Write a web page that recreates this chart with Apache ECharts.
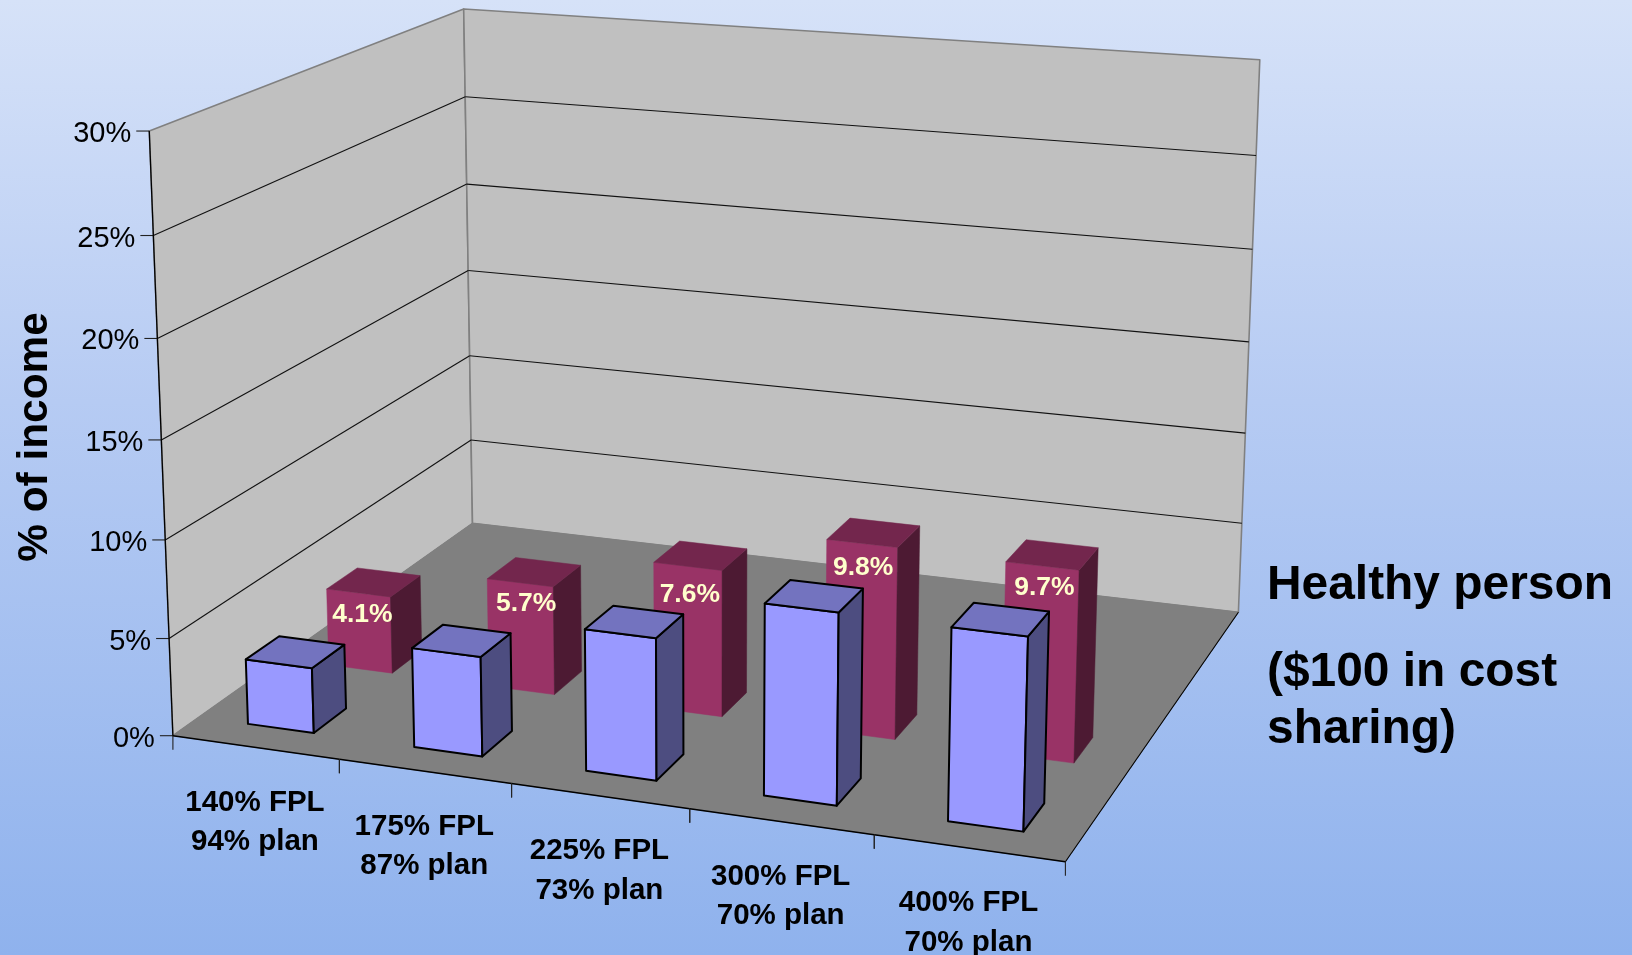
<!DOCTYPE html>
<html>
<head>
<meta charset="utf-8">
<title>Healthy person: cost sharing as percent of income</title>
<style>html,body{margin:0;padding:0;overflow:hidden;background:#b6cbf3}#main{width:1632px;height:955px}</style>
<script src="https://cdn.jsdelivr.net/npm/echarts@6/dist/echarts.min.js"></script>
</head>
<body>
<div id="main"></div>
<script>
// ---- data ----
var categories = ['140% FPL\n94% plan', '175% FPL\n87% plan', '225% FPL\n73% plan', '300% FPL\n70% plan', '400% FPL\n70% plan'];
var backRowValues = [4.1, 5.7, 7.6, 9.8, 9.7];
var backRowLabels = ['4.1%', '5.7%', '7.6%', '9.8%', '9.7%'];
var frontRowValues = [3.35, 5.05, 7.1, 9.45, 9.4];
var yTicks = [0, 5, 10, 15, 20, 25, 30];
var yTickLabels = ['0%', '5%', '10%', '15%', '20%', '25%', '30%'];
var yTitle = '% of income';
var sideTitle = ['Healthy person', '($100 in cost', 'sharing)'];

// ---- chart box in the page: where the 3D box corners land ----
var FL = [172.9, 735.7], FR = [1065.4, 861.7], BR = [1238.4, 612.3], BL = [472.5, 523.3];
var FLT = [149.3, 131], BLT = [463.7, 9], BRT = [1259.8, 59.7];
var BAR_W = 0.4, ROW_FRONT = 0.125, ROW_BACK = 0.375, BAR_D = 0.1, FONT = '"Liberation Sans", Arial, sans-serif';
var LABEL_SHIFT = [[4, 22], [6, 21], [2, 28], [1, 24], [2, 22]];

// projective camera fitted to the corners
function floorMatrix() {
  var x0 = FL[0], y0 = FL[1], x1 = FR[0], y1 = FR[1], x2 = BR[0], y2 = BR[1], x3 = BL[0], y3 = BL[1];
  var dx1 = x1 - x2, dx2 = x3 - x2, dx3 = x0 - x1 + x2 - x3;
  var dy1 = y1 - y2, dy2 = y3 - y2, dy3 = y0 - y1 + y2 - y3;
  var den = dx1 * dy2 - dx2 * dy1;
  var g = (dx3 * dy2 - dx2 * dy3) / den, h = (dx1 * dy3 - dx3 * dy1) / den;
  return { px: [x1 - x0 + g * x1, y1 - y0 + g * y1, g], pz: [x3 - x0 + h * x3, y3 - y0 + h * y3, h], p0: [x0, y0, 1] };
}
var M = floorMatrix();
(function fitVertical() {
  var pts = [[0, 0, FLT], [0, 1, BLT], [1, 1, BRT]];
  var A = [[0, 0, 0], [0, 0, 0], [0, 0, 0]], r = [0, 0, 0];
  pts.forEach(function (p) {
    var b = [0, 1, 2].map(function (k) { return p[0] * M.px[k] + p[1] * M.pz[k] + M.p0[k]; });
    [[[1, 0, -p[2][0]], p[2][0] * b[2] - b[0]], [[0, 1, -p[2][1]], p[2][1] * b[2] - b[1]]].forEach(function (e) {
      for (var i = 0; i < 3; i++) { r[i] += e[0][i] * e[1]; for (var j = 0; j < 3; j++) A[i][j] += e[0][i] * e[0][j]; }
    });
  });
  function det(m) {
    return m[0][0] * (m[1][1] * m[2][2] - m[1][2] * m[2][1]) - m[0][1] * (m[1][0] * m[2][2] - m[1][2] * m[2][0]) + m[0][2] * (m[1][0] * m[2][1] - m[1][1] * m[2][0]);
  }
  var D = det(A);
  M.py = [0, 1, 2].map(function (c) {
    var m = A.map(function (row, i) { return row.map(function (v, j) { return j === c ? r[i] : v; }); });
    return det(m) / D;
  });
})();
function project(u, v, z) {
  var o = [0, 1, 2].map(function (k) { return u * M.px[k] + v * M.py[k] + z * M.pz[k] + M.p0[k]; });
  return [o[0] / o[2], o[1] / o[2]];
}

var GRID = { left: 0, top: 0, width: 800, height: 800 };
function uOf(api, i) { return (api.coord([i, 0])[0] - GRID.left) / GRID.width; }
function vOf(api, val) { return 1 - (api.coord([0, val])[1] - GRID.top) / GRID.height; }
function poly(points, fill, stroke, lw) {
  return { type: 'polygon', shape: { points: points }, style: { fill: fill, stroke: stroke, lineWidth: lw, lineJoin: 'round' } };
}
function line(a, b, color, lw) {
  return { type: 'line', shape: { x1: a[0], y1: a[1], x2: b[0], y2: b[1] }, style: { stroke: color, lineWidth: lw, fill: null } };
}

function barRenderer(zCenter, colors, stroke, lw) {
  return function (params, api) {
    var i = api.value(0), u = uOf(api, i), hw = (api.size([1, 0])[0] / GRID.width) * BAR_W / 2;
    var v = vOf(api, api.value(1)), z0 = zCenter - BAR_D / 2, z1 = zCenter + BAR_D / 2;
    var a = u - hw, b = u + hw;
    return { type: 'group', children: [
      poly([project(a, 0, z0), project(b, 0, z0), project(b, v, z0), project(a, v, z0)], colors[0], stroke || colors[0], lw),
      poly([project(b, 0, z0), project(b, 0, z1), project(b, v, z1), project(b, v, z0)], colors[2], stroke || colors[2], lw),
      poly([project(a, v, z0), project(b, v, z0), project(b, v, z1), project(a, v, z1)], colors[1], stroke || colors[1], lw)
    ] };
  };
}

var option = {
  animation: false,
  backgroundColor: new echarts.graphic.LinearGradient(0, 0, 0, 1, [
    { offset: 0, color: '#d6e2f8' }, { offset: 0.42, color: '#b6cbf3' }, { offset: 1, color: '#8fb2ed' }
  ]),
  grid: { left: GRID.left, top: GRID.top, width: GRID.width, height: GRID.height, show: false },
  xAxis: { type: 'category', data: categories, show: false },
  yAxis: { type: 'value', min: 0, max: 30, interval: 5, show: false },
  graphic: [
    { type: 'text', x: 35, y: 437, rotation: Math.PI / 2, style: { text: yTitle, font: 'bold 42.4px ' + FONT, fill: '#000', align: 'center', verticalAlign: 'middle' } },
    { type: 'text', x: 1267, y: 586, style: { text: sideTitle[0], font: 'bold 47.9px ' + FONT, fill: '#000', verticalAlign: 'middle' } },
    { type: 'text', x: 1267, y: 673, style: { text: sideTitle[1], font: 'bold 47.9px ' + FONT, fill: '#000', verticalAlign: 'middle' } },
    { type: 'text', x: 1267, y: 730, style: { text: sideTitle[2], font: 'bold 47.9px ' + FONT, fill: '#000', verticalAlign: 'middle' } }
  ],
  series: [
    { // walls and floor
      type: 'custom', name: 'box', silent: true, z: 1, data: [[0, 0]], clip: false,
      renderItem: function () {
        return { type: 'group', children: [
          poly([FL, BL, BLT, FLT], '#c0c0c0', '#808080', 1.6),
          poly([BL, BR, BRT, BLT], '#c0c0c0', '#808080', 1.6),
          poly([FL, FR, BR, BL], '#808080', '#808080', 1)
        ] };
      }
    },
    { // gridlines, value ticks and value labels
      type: 'custom', name: 'value axis', silent: true, z: 2, clip: false,
      data: yTicks.map(function (t) { return [0, t]; }),
      renderItem: function (params, api) {
        var v = vOf(api, api.value(1)), p0 = project(0, v, 0), p1 = project(0, v, 1), p2 = project(1, v, 1);
        var kids = [line([p0[0] - 13, p0[1]], p0, '#222', 1.1)];
        if (v > 0 && v < 1) { kids.push(line(p0, p1, '#111', 1.1), line(p1, p2, '#111', 1.1)); }
        kids.push({ type: 'text', style: { x: p0[0] - 18, y: p0[1] + 3, text: yTickLabels[params.dataIndex], font: '29px ' + FONT, fill: '#000', align: 'right', verticalAlign: 'middle' } });
        return { type: 'group', children: kids };
      }
    },
    { // axis lines, category ticks and labels
      type: 'custom', name: 'category axis', silent: true, z: 3, clip: false,
      data: categories.map(function (c, i) { return [i, 0]; }),
      renderItem: function (params, api) {
        var i = api.value(0), u = uOf(api, i), hb = api.size([1, 0])[0] / GRID.width / 2;
        var a = project(u - hb, 0, 0), b = project(u + hb, 0, 0), c = project(u, 0, 0);
        var kids = [
          line(a, b, '#000', 1.6),
          line(a, [a[0], a[1] + 14], '#222', 1.1),
          line(b, [b[0], b[1] + 14], '#222', 1.1),
          { type: 'text', style: { x: c[0] - 0.5, y: c[1] + 75, text: categories[i], font: 'bold 29.5px ' + FONT, lineHeight: 39.5, fill: '#000', align: 'center', verticalAlign: 'middle' } }
        ];
        if (i === 0) { kids.push(line(project(0, 0, 0), project(0, 1, 0), '#000', 1.3)); }
        if (i === categories.length - 1) { kids.push(line(project(1, 0, 0), project(1, 0, 1), '#000', 1.1)); }
        return { type: 'group', children: kids };
      }
    },
    {
      type: 'custom', name: 'Back row', silent: true, z: 4, clip: false,
      data: backRowValues.map(function (v, i) { return [i, v]; }),
      renderItem: barRenderer(ROW_BACK, ['#993366', '#73264d', '#4d1a33'], null, 0.5)
    },
    {
      type: 'custom', name: 'Front row', silent: true, z: 5, clip: false,
      data: frontRowValues.map(function (v, i) { return [i, v]; }),
      renderItem: barRenderer(ROW_FRONT, ['#9999ff', '#7373bf', '#4d4d80'], '#000', 2)
    },
    {
      type: 'custom', name: 'Back row labels', silent: true, z: 6, clip: false,
      data: backRowValues.map(function (v, i) { return [i, v]; }),
      renderItem: function (params, api) {
        var i = api.value(0), p = project(uOf(api, i), vOf(api, api.value(1)), ROW_BACK - BAR_D / 2);
        return { type: 'text', style: { x: p[0] + LABEL_SHIFT[i][0], y: p[1] + LABEL_SHIFT[i][1], text: backRowLabels[i], font: 'bold 26.5px ' + FONT, fill: '#ffffcc', align: 'center', verticalAlign: 'middle' } };
      }
    }
  ]
};
var chart = echarts.init(document.getElementById('main'), null, { renderer: 'canvas' });
chart.setOption(option);
</script>
</body>
</html>
